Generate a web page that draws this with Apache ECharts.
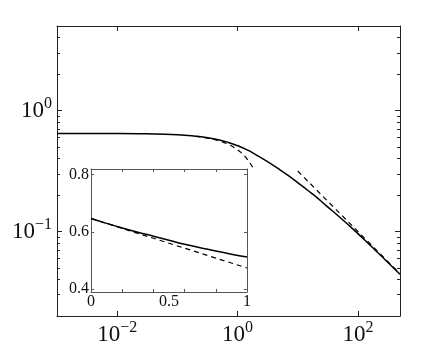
<!DOCTYPE html>
<html>
<head>
<meta charset="utf-8">
<script src="https://cdn.jsdelivr.net/npm/echarts@6/dist/echarts.min.js"></script>
<style>
  html, body { margin: 0; padding: 0; background: #fff; }
  #chart { width: 443px; height: 357px; }
</style>
</head>
<body>
<div id="chart"></div>
<script>
// main log-log panel
const xMain = [0.001, 0.01, 0.03, 0.1, 0.2, 0.3, 0.5, 0.7, 1, 1.5, 2, 3, 5, 7, 10, 15, 20, 30, 50, 70, 100, 150, 200, 300, 500]
const yMain = [0.647, 0.647, 0.642, 0.630, 0.614, 0.599, 0.571, 0.545, 0.512, 0.468, 0.432, 0.383, 0.325, 0.289, 0.253, 0.217, 0.194, 0.163, 0.131, 0.113, 0.0960, 0.0792, 0.0690, 0.0568, 0.0443]

// small-x expansion (dashed)
const xSmall = [0.2, 0.3, 0.4, 0.5, 0.6, 0.7, 0.8, 0.9, 1.0, 1.1, 1.2, 1.3, 1.4, 1.5, 1.6, 1.7, 1.8, 1.9]
const ySmall = [0.612, 0.595, 0.578, 0.561, 0.543, 0.526, 0.509, 0.491, 0.474, 0.457, 0.439, 0.422, 0.405, 0.388, 0.370, 0.353, 0.336, 0.318]

// large-x asymptote (dashed)
const xLarge = [10, 500]
const yLarge = [0.316, 0.0447]

// inset, linear axes
const tInset = [0, 0.1, 0.2, 0.3, 0.4, 0.5, 0.6, 0.7, 0.8, 0.9, 1]
const yInset = [0.647, 0.630, 0.614, 0.599, 0.585, 0.571, 0.557, 0.545, 0.533, 0.522, 0.512]
const tInsetDash = [0, 1]
const yInsetDash = [0.647, 0.474]

// ticks
const xMajor = [0.01, 1, 100]
const yMajor = [0.1, 1]
const yMinor = [0.03, 0.04, 0.05, 0.06, 0.07, 0.08, 0.09, 0.2, 0.3, 0.4, 0.5, 0.6, 0.7, 0.8, 0.9, 2, 3, 4]
const insetXTicks = [0.2, 0.4, 0.6, 0.8]
const insetXLabels = [0, 0.5, 1]
const insetYTicks = [0.4, 0.6, 0.8]

const pair = (xs, ys) => xs.map((x, i) => [x, ys[i]])

const serif = 'Liberation Serif'
const ink = '#111'

function powLabel (v) {
  const e = Math.round(Math.log10(v))
  const s = e < 0 ? '\u2212' + (-e) : String(e)
  return '{b|10}{s|' + s + '}'
}
const powRich = {
  b: { fontSize: 23, fontFamily: serif, color: ink, lineHeight: 30 },
  s: { fontSize: 16, fontFamily: serif, color: ink, verticalAlign: 'top', lineHeight: 16 }
}

const lineStyle = { color: '#222', width: 1 }
const insetLine = { color: '#555', width: 1 }

function logX (pos, labels) {
  return {
    type: 'log', gridIndex: 0, position: pos, min: 0.001, max: 500,
    axisLine: { show: true, onZero: false, lineStyle },
    axisTick: { show: true, inside: true, length: 5, customValues: xMajor, lineStyle },
    axisLabel: labels
      ? { show: true, customValues: xMajor, formatter: powLabel, rich: powRich, margin: 4 }
      : { show: false },
    splitLine: { show: false }, minorTick: { show: false }
  }
}
function logY (pos, ticks, len, labels, line) {
  return {
    type: 'log', gridIndex: 0, position: pos, min: 0.02, max: 5,
    axisLine: { show: line, onZero: false, lineStyle },
    axisTick: { show: true, inside: true, length: len, customValues: ticks, lineStyle },
    axisLabel: labels
      ? { show: true, customValues: yMajor, formatter: powLabel, rich: powRich, margin: 5 }
      : { show: false },
    splitLine: { show: false }
  }
}
function linX (pos, labels) {
  return {
    type: 'value', gridIndex: 1, position: pos, min: 0, max: 1,
    axisLine: { show: true, onZero: false, lineStyle: insetLine },
    axisTick: { show: true, inside: true, length: 3, customValues: insetXTicks, lineStyle: insetLine },
    axisLabel: labels
      ? { show: true, customValues: insetXLabels, fontSize: 16, fontFamily: serif, color: ink, margin: 2 }
      : { show: false },
    splitLine: { show: false }
  }
}
function linY (pos, labels) {
  return {
    type: 'value', gridIndex: 1, position: pos, min: 0.39, max: 0.82,
    axisLine: { show: true, onZero: false, lineStyle: insetLine },
    axisTick: { show: true, inside: true, length: 3, customValues: insetYTicks, lineStyle: insetLine },
    axisLabel: labels
      ? { show: true, customValues: insetYTicks, fontSize: 16, fontFamily: serif, color: ink, margin: 2,
          formatter: v => v.toFixed(1) }
      : { show: false },
    splitLine: { show: false }
  }
}

const chart = echarts.init(document.getElementById('chart'), null, { renderer: 'canvas' })

const option = {
  animation: false,
  backgroundColor: '#fff',
  grid: [
    { left: 57, top: 26, width: 343, height: 290 },
    { left: 91, top: 169, width: 156, height: 123, show: true, backgroundColor: '#fff', borderWidth: 0 }
  ],
  xAxis: [logX('bottom', true), logX('top', false), linX('bottom', true), linX('top', false)],
  yAxis: [
    logY('left', yMajor, 5, true, true),
    logY('left', yMinor, 3, false, false),
    logY('right', yMajor, 5, false, true),
    logY('right', yMinor, 3, false, false),
    linY('left', true),
    linY('right', false)
  ],
  series: [
    {
      type: 'line', xAxisIndex: 0, yAxisIndex: 0, data: pair(xMain, yMain),
      showSymbol: false, smooth: true, lineStyle: { color: '#000', width: 1.5 }
    },
    {
      type: 'line', xAxisIndex: 0, yAxisIndex: 0, data: pair(xSmall, ySmall),
      showSymbol: false, lineStyle: { color: '#000', width: 1.2, type: [5, 4] }
    },
    {
      type: 'line', xAxisIndex: 0, yAxisIndex: 0, data: pair(xLarge, yLarge),
      showSymbol: false, lineStyle: { color: '#000', width: 1.2, type: [5, 4] }
    },
    {
      type: 'line', xAxisIndex: 2, yAxisIndex: 4, data: pair(tInset, yInset),
      showSymbol: false, smooth: true, lineStyle: { color: '#000', width: 1.5 }
    },
    {
      type: 'line', xAxisIndex: 2, yAxisIndex: 4, data: pair(tInsetDash, yInsetDash),
      showSymbol: false, lineStyle: { color: '#000', width: 1.2, type: [5, 4] }
    }
  ]
}

chart.setOption(option)
</script>
</body>
</html>
